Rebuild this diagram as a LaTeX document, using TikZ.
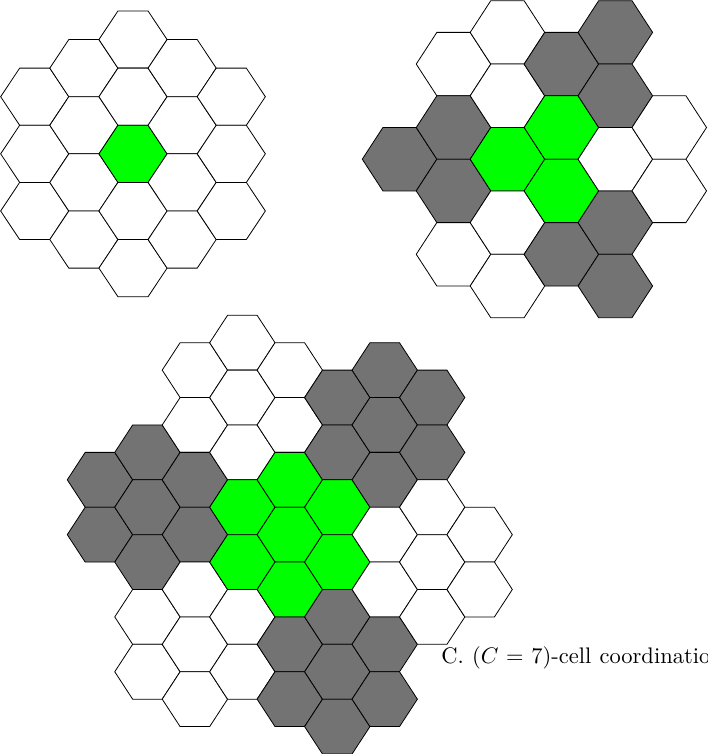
\documentclass[tikz,border=0pt]{standalone}
\definecolor{cellgray}{RGB}{115,115,115}
\definecolor{cellgreen}{RGB}{0,255,0}
\tikzset{hexline/.style={draw=black,line width=0.8pt,line join=miter},
  captionstyle/.style={anchor=base west,inner sep=0pt,outer sep=0pt}}
\newcommand\hexgrid[6]{% #1 ox, #2 oy, #3 a (half width), #4 b (half flat edge), #5 c (half height), #6 list k/h/colour
  \foreach \k/\h/\f in {#6}{%
    \pgfmathsetmacro\px{#1+\k*(#3+#4)}%
    \pgfmathsetmacro\py{#2+\h*#5}%
    \draw[hexline,fill=\f] (\px-#3,\py) -- (\px-#4,\py-#5) -- (\px+#4,\py-#5) -- (\px+#3,\py) -- (\px+#4,\py+#5) -- (\px-#4,\py+#5) -- cycle;
  }%
}
\begin{document}
\begin{tikzpicture}[x=1pt,y=-1pt]
\useasboundingbox (0,0) rectangle (707,754);
\begin{scope}
\clip (0,0) rectangle (707,754);
% A: single cell
\hexgrid{133.0}{153.85}{34.07}{15.07}{28.57}{%
 -2/-2/white,-2/0/white,-2/2/white,
 -1/-3/white,-1/-1/white,-1/1/white,-1/3/white,
 0/-4/white,0/-2/white,0/0/cellgreen,0/2/white,0/4/white,
 1/-3/white,1/-1/white,1/1/white,1/3/white,
 2/-2/white,2/0/white,2/2/white}
% B: C=3
\hexgrid{507.45}{159.2}{37.27}{16.67}{31.7}{%
 -2/0/cellgray,
 -1/-3/white,-1/-1/cellgray,-1/1/cellgray,-1/3/white,
 0/-4/white,0/-2/white,0/0/cellgreen,0/2/white,0/4/white,
 1/-3/cellgray,1/-1/cellgreen,1/1/cellgreen,1/3/cellgray,
 2/-4/cellgray,2/-2/cellgray,2/0/white,2/2/cellgray,2/4/cellgray,
 3/-1/white,3/1/white}
% C: C=7
\hexgrid{289.8}{534.65}{32.68}{14.78}{27.42}{%
 -4/-2/cellgray,-4/0/cellgray,
 -3/-3/cellgray,-3/-1/cellgray,-3/1/cellgray,-3/3/white,-3/5/white,
 -2/-6/white,-2/-4/white,-2/-2/cellgray,-2/0/cellgray,-2/2/white,-2/4/white,-2/6/white,
 -1/-7/white,-1/-5/white,-1/-3/white,-1/-1/cellgreen,-1/1/cellgreen,-1/3/white,-1/5/white,
 0/-6/white,0/-4/white,0/-2/cellgreen,0/0/cellgreen,0/2/cellgreen,0/4/cellgray,0/6/cellgray,
 1/-5/cellgray,1/-3/cellgray,1/-1/cellgreen,1/1/cellgreen,1/3/cellgray,1/5/cellgray,1/7/cellgray,
 2/-6/cellgray,2/-4/cellgray,2/-2/cellgray,2/0/white,2/2/white,2/4/cellgray,2/6/cellgray,
 3/-5/cellgray,3/-3/cellgray,3/-1/white,3/1/white,3/3/white,
 4/0/white,4/2/white}
\node[captionstyle] (caption) at (441.4,663.9)
  {\scalebox{2.25}{\fontsize{10}{12}\selectfont\hbox to 119.5pt{C. ($C=7$)-cell coordinatio}}};
\end{scope}
\end{tikzpicture}
\end{document}
